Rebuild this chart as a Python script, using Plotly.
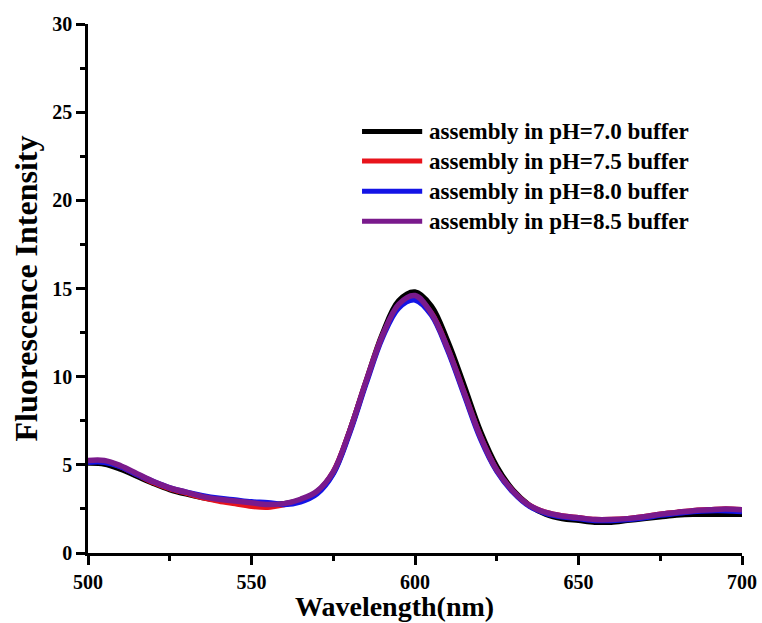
import plotly.graph_objects as go

# Emission spectra, 5 nm steps
wavelength = list(range(500, 705, 5))

ph70 = [5.10, 5.05, 4.75, 4.35, 3.95, 3.60, 3.35, 3.15, 3.00, 2.90, 2.80, 2.75,
        2.80, 3.00, 3.45, 4.55, 6.90, 9.70, 12.40, 14.30, 14.80, 14.00, 12.00,
        9.50, 6.90, 4.90, 3.55, 2.70, 2.20, 1.95, 1.85, 1.75, 1.75, 1.85, 1.95,
        2.05, 2.15, 2.20, 2.20, 2.20, 2.20]
ph75 = [5.20, 5.20, 4.90, 4.45, 4.00, 3.65, 3.40, 3.15, 2.95, 2.80, 2.65, 2.60,
        2.75, 3.00, 3.45, 4.60, 6.90, 9.70, 12.30, 14.00, 14.50, 13.60, 11.60,
        9.10, 6.60, 4.70, 3.50, 2.70, 2.30, 2.10, 2.00, 1.90, 1.90, 1.95, 2.05,
        2.20, 2.30, 2.40, 2.45, 2.50, 2.45]
ph80 = [5.15, 5.15, 4.90, 4.45, 4.05, 3.70, 3.45, 3.25, 3.10, 3.00, 2.90, 2.85,
        2.75, 2.90, 3.35, 4.50, 6.80, 9.60, 12.20, 13.90, 14.35, 13.50, 11.50,
        9.00, 6.50, 4.65, 3.45, 2.65, 2.25, 2.05, 1.95, 1.85, 1.85, 1.90, 2.00,
        2.15, 2.25, 2.35, 2.40, 2.40, 2.35]
ph85 = [5.25, 5.25, 4.95, 4.50, 4.05, 3.70, 3.45, 3.20, 3.05, 2.95, 2.85, 2.75,
        2.80, 3.05, 3.50, 4.60, 6.90, 9.70, 12.30, 14.10, 14.60, 13.60, 11.60,
        9.10, 6.60, 4.70, 3.50, 2.70, 2.30, 2.10, 2.00, 1.90, 1.90, 1.95, 2.05,
        2.20, 2.30, 2.40, 2.45, 2.50, 2.45]

series_names = ["assembly in pH=7.0 buffer", "assembly in pH=7.5 buffer",
                "assembly in pH=8.0 buffer", "assembly in pH=8.5 buffer"]
series_values = [ph70, ph75, ph80, ph85]
series_colors = ["#000000", "#e8141c", "#1414e6", "#7a1a8c"]

x_ticks = [500, 550, 600, 650, 700]
y_ticks = [0, 5, 10, 15, 20, 25, 30]

FONT = "Liberation Serif"

fig = go.Figure()
for name, vals, col in zip(series_names, series_values, series_colors):
    fig.add_trace(go.Scatter(
        x=wavelength, y=vals, mode="lines", name=name,
        line=dict(color=col, width=5.5, shape="spline", smoothing=1.0),
        showlegend=False,
    ))

# Legend drawn as line samples plus labels
legend_rows = [0.797, 0.741, 0.684, 0.627]
shapes = []
annotations = []
for name, col, yy in zip(series_names, series_colors, legend_rows):
    shapes.append(dict(type="line", xref="paper", yref="paper",
                       x0=0.419, x1=0.511, y0=yy, y1=yy,
                       line=dict(color=col, width=5)))
    annotations.append(dict(xref="paper", yref="paper", x=0.519, y=yy,
                            xanchor="left", yanchor="middle", showarrow=False,
                            text="<b>%s</b>" % name,
                            font=dict(family=FONT, size=23, color="#000")))

# x-axis title, set a little left of the axis centre
annotations.append(dict(xref="paper", yref="paper", x=0.468, y=-0.102,
                        xanchor="center", yanchor="middle", showarrow=False,
                        text="<b>Wavelength(nm)</b>",
                        font=dict(family=FONT, size=28, color="#000")))

axis_common = dict(
    showline=True, linecolor="#000", linewidth=2.5, mirror=False,
    showgrid=False, zeroline=False, automargin=False,
    ticks="outside", ticklen=9, tickwidth=2.5, tickcolor="#000",
    tickfont=dict(family=FONT, size=20, color="#000", weight="bold"),
)

fig.update_layout(
    width=762, height=623,
    margin=dict(l=88, r=20, t=24, b=70),
    paper_bgcolor="white", plot_bgcolor="white",
    xaxis=dict(range=[500, 700], tickvals=x_ticks,
               minor=dict(ticks="outside", ticklen=5, tickwidth=2.5,
                          tickcolor="#000", dtick=25, tick0=500),
               **axis_common),
    yaxis=dict(range=[0, 30], tickvals=y_ticks,
               minor=dict(ticks="outside", ticklen=5, tickwidth=2.5,
                          tickcolor="#000", dtick=2.5, tick0=0),
               title=dict(text="<b>Fluorescence Intensity</b>", standoff=6,
                          font=dict(family=FONT, size=32, color="#000")),
               **axis_common),
    shapes=shapes,
    annotations=annotations,
)

fig.write_html("out.html")
